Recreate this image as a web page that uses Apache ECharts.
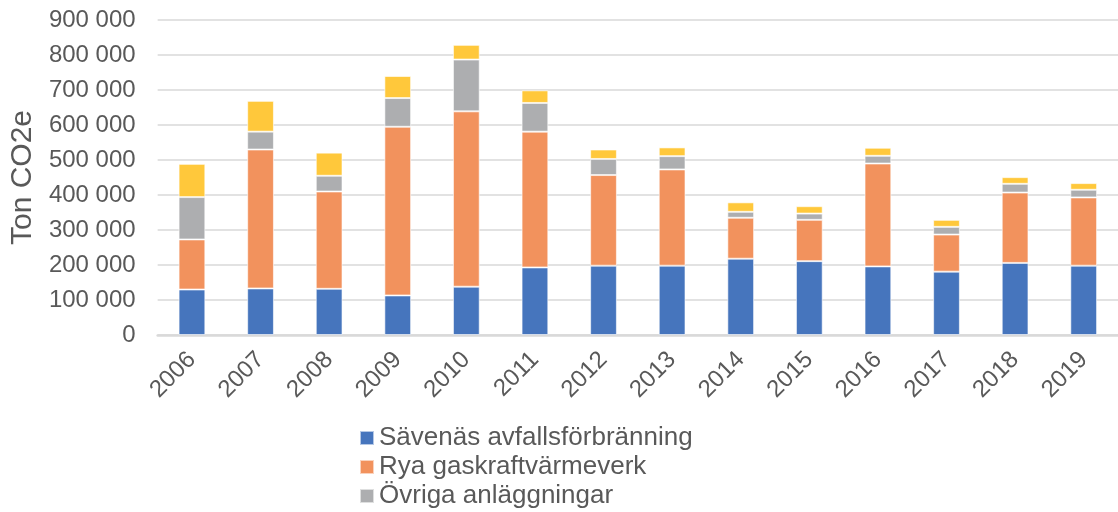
<!DOCTYPE html>
<html>
<head>
<meta charset="utf-8">
<script src="https://cdn.jsdelivr.net/npm/echarts@6/dist/echarts.min.js"></script>
<style>
  html, body { margin: 0; padding: 0; background: #fff; }
  #main { width: 1118px; height: 512px; }
</style>
</head>
<body>
<div id="main"></div>
<script>
var years = ['2006', '2007', '2008', '2009', '2010', '2011', '2012', '2013', '2014', '2015', '2016', '2017', '2018', '2019'];
var savenas = [130000, 133000, 132000, 113000, 138000, 193000, 198000, 198000, 218000, 211000, 196000, 181000, 206000, 198000];
var rya = [143000, 397000, 278000, 482000, 501000, 388000, 259000, 275000, 117000, 118000, 294000, 106000, 201000, 195000];
var ovriga = [121000, 51000, 45000, 82000, 148000, 82000, 46000, 38000, 17000, 18000, 22000, 22000, 25000, 22000];
var rosenlund = [95000, 88000, 66000, 63000, 42000, 36000, 27000, 25000, 27000, 21000, 23000, 20000, 19000, 19000];
var seriesNames = ['Sävenäs avfallsförbränning', 'Rya gaskraftvärmeverk', 'Övriga anläggningar', 'Rosenlundsverket'];
var colors = ['#4675BD', '#F2925D', '#ADAEB0', '#FFC83B'];

var myChart = echarts.init(document.getElementById('main'));

function fmt(v) {
    return String(v).replace(/\B(?=(\d{3})+(?!\d))/g, ' ');
}

function bar(name, data, color) {
    return {
        name: name,
        type: 'bar',
        stack: 'total',
        barWidth: '39%',
        data: data,
        itemStyle: {
            color: color,
            borderColor: 'rgba(255,255,255,0.6)',
            borderWidth: 1
        }
    };
}

myChart.setOption({
    animation: false,
    textStyle: { fontFamily: 'Liberation Sans, Arial, sans-serif' },
    grid: { left: 155, top: 20, width: 965, height: 315 },
    legend: {
        orient: 'vertical',
        left: 359,
        top: 425,
        padding: 0,
        itemWidth: 14,
        itemHeight: 14,
        itemGap: 3,
        icon: 'rect',
        data: seriesNames.slice(0, 3),
        textStyle: { color: '#595959', fontSize: 26, lineHeight: 26 }
    },
    xAxis: {
        type: 'category',
        data: years,
        axisTick: { show: false },
        axisLine: { lineStyle: { color: '#d9d9d9', width: 2.5 } },
        axisLabel: { rotate: 45, color: '#595959', fontSize: 24, margin: 21 }
    },
    yAxis: {
        type: 'value',
        min: 0,
        max: 900000,
        interval: 100000,
        name: 'Ton CO2e',
        nameLocation: 'middle',
        nameGap: 118,
        nameTextStyle: { color: '#595959', fontSize: 30 },
        axisLine: { show: false },
        axisTick: { show: false },
        axisLabel: { color: '#595959', fontSize: 24, margin: 22, formatter: fmt },
        splitLine: { lineStyle: { color: '#d9d9d9', width: 1.5 } }
    },
    series: [
        bar(seriesNames[0], savenas, colors[0]),
        bar(seriesNames[1], rya, colors[1]),
        bar(seriesNames[2], ovriga, colors[2]),
        bar(seriesNames[3], rosenlund, colors[3])
    ]
});
</script>
</body>
</html>
